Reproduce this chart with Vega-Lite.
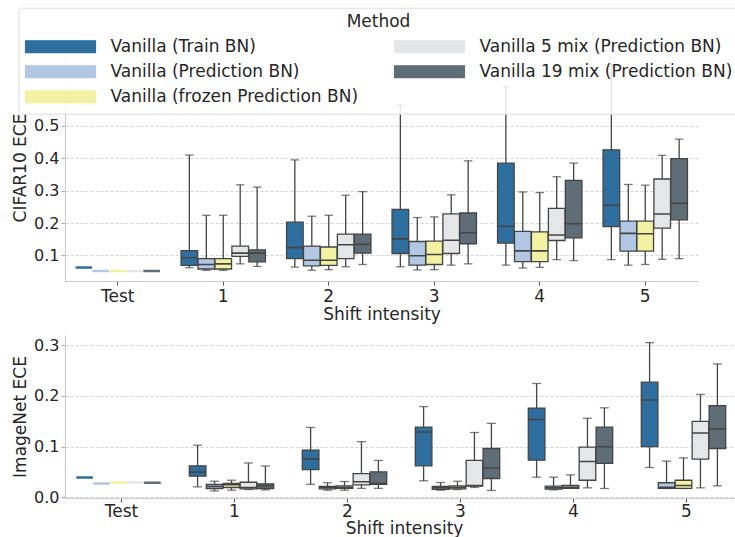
{
  "$schema": "https://vega.github.io/schema/vega-lite/v6.json",
  "padding": {"left": 11, "top": 7, "right": 0, "bottom": 1},
  "background": "white",
  "config": {
    "font": "DejaVu Sans",
    "view": {"stroke": null},
    "axis": {
      "labelFontSize": 16, "titleFontSize": 17, "titleFontWeight": "normal",
      "labelColor": "#262626", "titleColor": "#262626",
      "domainColor": "#cccccc", "domainWidth": 1.2,
      "tickColor": "#aaaaaa", "tickSize": 4,
      "gridColor": "#c8c8c8", "gridDash": [3, 2], "gridWidth": 0.8
    }
  },
  "datasets": {
    "cifar": [
      {"shift": "Test", "method": "Vanilla (Train BN)", "min": 0.063, "q1": 0.063, "median": 0.063, "q3": 0.063, "max": 0.063},
      {"shift": "Test", "method": "Vanilla (Prediction BN)", "min": 0.052, "q1": 0.052, "median": 0.052, "q3": 0.052, "max": 0.052},
      {"shift": "Test", "method": "Vanilla (frozen Prediction BN)", "min": 0.052, "q1": 0.052, "median": 0.052, "q3": 0.052, "max": 0.052},
      {"shift": "Test", "method": "Vanilla 5 mix (Prediction BN)", "min": 0.052, "q1": 0.052, "median": 0.052, "q3": 0.052, "max": 0.052},
      {"shift": "Test", "method": "Vanilla 19 mix (Prediction BN)", "min": 0.052, "q1": 0.052, "median": 0.052, "q3": 0.052, "max": 0.052},
      {"shift": "1", "method": "Vanilla (Train BN)", "min": 0.062, "q1": 0.069, "median": 0.093, "q3": 0.115, "max": 0.410},
      {"shift": "1", "method": "Vanilla (Prediction BN)", "min": 0.054, "q1": 0.058, "median": 0.072, "q3": 0.090, "max": 0.224},
      {"shift": "1", "method": "Vanilla (frozen Prediction BN)", "min": 0.054, "q1": 0.058, "median": 0.074, "q3": 0.090, "max": 0.224},
      {"shift": "1", "method": "Vanilla 5 mix (Prediction BN)", "min": 0.074, "q1": 0.097, "median": 0.107, "q3": 0.129, "max": 0.318},
      {"shift": "1", "method": "Vanilla 19 mix (Prediction BN)", "min": 0.066, "q1": 0.080, "median": 0.107, "q3": 0.117, "max": 0.311},
      {"shift": "2", "method": "Vanilla (Train BN)", "min": 0.064, "q1": 0.090, "median": 0.124, "q3": 0.203, "max": 0.395},
      {"shift": "2", "method": "Vanilla (Prediction BN)", "min": 0.054, "q1": 0.068, "median": 0.085, "q3": 0.129, "max": 0.221},
      {"shift": "2", "method": "Vanilla (frozen Prediction BN)", "min": 0.056, "q1": 0.069, "median": 0.085, "q3": 0.126, "max": 0.224},
      {"shift": "2", "method": "Vanilla 5 mix (Prediction BN)", "min": 0.065, "q1": 0.090, "median": 0.133, "q3": 0.166, "max": 0.286},
      {"shift": "2", "method": "Vanilla 19 mix (Prediction BN)", "min": 0.072, "q1": 0.107, "median": 0.134, "q3": 0.166, "max": 0.297},
      {"shift": "3", "method": "Vanilla (Train BN)", "min": 0.065, "q1": 0.106, "median": 0.151, "q3": 0.242, "max": 0.565},
      {"shift": "3", "method": "Vanilla (Prediction BN)", "min": 0.055, "q1": 0.070, "median": 0.099, "q3": 0.143, "max": 0.217},
      {"shift": "3", "method": "Vanilla (frozen Prediction BN)", "min": 0.056, "q1": 0.072, "median": 0.103, "q3": 0.144, "max": 0.219},
      {"shift": "3", "method": "Vanilla 5 mix (Prediction BN)", "min": 0.070, "q1": 0.106, "median": 0.147, "q3": 0.228, "max": 0.287},
      {"shift": "3", "method": "Vanilla 19 mix (Prediction BN)", "min": 0.074, "q1": 0.136, "median": 0.170, "q3": 0.231, "max": 0.392},
      {"shift": "4", "method": "Vanilla (Train BN)", "min": 0.070, "q1": 0.138, "median": 0.190, "q3": 0.385, "max": 0.622},
      {"shift": "4", "method": "Vanilla (Prediction BN)", "min": 0.061, "q1": 0.081, "median": 0.114, "q3": 0.174, "max": 0.296},
      {"shift": "4", "method": "Vanilla (frozen Prediction BN)", "min": 0.063, "q1": 0.081, "median": 0.114, "q3": 0.173, "max": 0.294},
      {"shift": "4", "method": "Vanilla 5 mix (Prediction BN)", "min": 0.087, "q1": 0.146, "median": 0.163, "q3": 0.245, "max": 0.343},
      {"shift": "4", "method": "Vanilla 19 mix (Prediction BN)", "min": 0.084, "q1": 0.154, "median": 0.198, "q3": 0.332, "max": 0.385},
      {"shift": "5", "method": "Vanilla (Train BN)", "min": 0.087, "q1": 0.189, "median": 0.255, "q3": 0.426, "max": 0.690},
      {"shift": "5", "method": "Vanilla (Prediction BN)", "min": 0.070, "q1": 0.113, "median": 0.168, "q3": 0.206, "max": 0.319},
      {"shift": "5", "method": "Vanilla (frozen Prediction BN)", "min": 0.072, "q1": 0.113, "median": 0.167, "q3": 0.206, "max": 0.317},
      {"shift": "5", "method": "Vanilla 5 mix (Prediction BN)", "min": 0.088, "q1": 0.184, "median": 0.228, "q3": 0.336, "max": 0.409},
      {"shift": "5", "method": "Vanilla 19 mix (Prediction BN)", "min": 0.090, "q1": 0.210, "median": 0.261, "q3": 0.399, "max": 0.459}
    ],
    "imagenet": [
      {"shift": "Test", "method": "Vanilla (Train BN)", "min": 0.0394, "q1": 0.0394, "median": 0.0394, "q3": 0.0394, "max": 0.0394},
      {"shift": "Test", "method": "Vanilla (Prediction BN)", "min": 0.0276, "q1": 0.0276, "median": 0.0276, "q3": 0.0276, "max": 0.0276},
      {"shift": "Test", "method": "Vanilla (frozen Prediction BN)", "min": 0.0295, "q1": 0.0295, "median": 0.0295, "q3": 0.0295, "max": 0.0295},
      {"shift": "Test", "method": "Vanilla 5 mix (Prediction BN)", "min": 0.0295, "q1": 0.0295, "median": 0.0295, "q3": 0.0295, "max": 0.0295},
      {"shift": "Test", "method": "Vanilla 19 mix (Prediction BN)", "min": 0.029, "q1": 0.029, "median": 0.029, "q3": 0.029, "max": 0.029},
      {"shift": "1", "method": "Vanilla (Train BN)", "min": 0.021, "q1": 0.042, "median": 0.050, "q3": 0.0624, "max": 0.103},
      {"shift": "1", "method": "Vanilla (Prediction BN)", "min": 0.013, "q1": 0.0177, "median": 0.0217, "q3": 0.0256, "max": 0.032},
      {"shift": "1", "method": "Vanilla (frozen Prediction BN)", "min": 0.0144, "q1": 0.0197, "median": 0.025, "q3": 0.0276, "max": 0.034},
      {"shift": "1", "method": "Vanilla 5 mix (Prediction BN)", "min": 0.0158, "q1": 0.017, "median": 0.0197, "q3": 0.030, "max": 0.068},
      {"shift": "1", "method": "Vanilla 19 mix (Prediction BN)", "min": 0.015, "q1": 0.0177, "median": 0.023, "q3": 0.027, "max": 0.062},
      {"shift": "2", "method": "Vanilla (Train BN)", "min": 0.026, "q1": 0.055, "median": 0.0755, "q3": 0.093, "max": 0.138},
      {"shift": "2", "method": "Vanilla (Prediction BN)", "min": 0.0144, "q1": 0.017, "median": 0.020, "q3": 0.022, "max": 0.029},
      {"shift": "2", "method": "Vanilla (frozen Prediction BN)", "min": 0.0144, "q1": 0.018, "median": 0.020, "q3": 0.023, "max": 0.0315},
      {"shift": "2", "method": "Vanilla 5 mix (Prediction BN)", "min": 0.018, "q1": 0.025, "median": 0.031, "q3": 0.047, "max": 0.110},
      {"shift": "2", "method": "Vanilla 19 mix (Prediction BN)", "min": 0.018, "q1": 0.026, "median": 0.0276, "q3": 0.0506, "max": 0.073},
      {"shift": "3", "method": "Vanilla (Train BN)", "min": 0.033, "q1": 0.0624, "median": 0.129, "q3": 0.1385, "max": 0.179},
      {"shift": "3", "method": "Vanilla (Prediction BN)", "min": 0.0144, "q1": 0.0158, "median": 0.019, "q3": 0.0217, "max": 0.0295},
      {"shift": "3", "method": "Vanilla (frozen Prediction BN)", "min": 0.0158, "q1": 0.017, "median": 0.020, "q3": 0.023, "max": 0.032},
      {"shift": "3", "method": "Vanilla 5 mix (Prediction BN)", "min": 0.0197, "q1": 0.0223, "median": 0.0236, "q3": 0.073, "max": 0.128},
      {"shift": "3", "method": "Vanilla 19 mix (Prediction BN)", "min": 0.0138, "q1": 0.0374, "median": 0.058, "q3": 0.0965, "max": 0.146},
      {"shift": "4", "method": "Vanilla (Train BN)", "min": 0.040, "q1": 0.0735, "median": 0.1536, "q3": 0.176, "max": 0.2245},
      {"shift": "4", "method": "Vanilla (Prediction BN)", "min": 0.015, "q1": 0.0164, "median": 0.019, "q3": 0.0223, "max": 0.040},
      {"shift": "4", "method": "Vanilla (frozen Prediction BN)", "min": 0.018, "q1": 0.018, "median": 0.020, "q3": 0.0236, "max": 0.0446},
      {"shift": "4", "method": "Vanilla 5 mix (Prediction BN)", "min": 0.019, "q1": 0.034, "median": 0.071, "q3": 0.099, "max": 0.156},
      {"shift": "4", "method": "Vanilla 19 mix (Prediction BN)", "min": 0.0177, "q1": 0.067, "median": 0.100, "q3": 0.1385, "max": 0.1766},
      {"shift": "5", "method": "Vanilla (Train BN)", "min": 0.059, "q1": 0.100, "median": 0.192, "q3": 0.227, "max": 0.305},
      {"shift": "5", "method": "Vanilla (Prediction BN)", "min": 0.0177, "q1": 0.018, "median": 0.020, "q3": 0.029, "max": 0.0716},
      {"shift": "5", "method": "Vanilla (frozen Prediction BN)", "min": 0.0177, "q1": 0.018, "median": 0.0236, "q3": 0.034, "max": 0.078},
      {"shift": "5", "method": "Vanilla 5 mix (Prediction BN)", "min": 0.019, "q1": 0.0755, "median": 0.127, "q3": 0.150, "max": 0.203},
      {"shift": "5", "method": "Vanilla 19 mix (Prediction BN)", "min": 0.023, "q1": 0.0965, "median": 0.135, "q3": 0.181, "max": 0.263}
    ]
  },
  "bounds": "flush",
  "spacing": 54,
  "resolve": {"scale": {"color": "shared"}},
  "vconcat": [
    {
      "width": 633,
      "height": 227,
      "data": {"name": "cifar"},
      "encoding": {
        "x": {"field": "shift", "type": "nominal", "sort": ["Test", "1", "2", "3", "4", "5"],
              "scale": {"paddingInner": 0.2, "paddingOuter": 0.1},
              "axis": {"title": "Shift intensity", "labelAngle": 0, "labelFontSize": 17, "labelPadding": 3, "titlePadding": 2, "tickColor": "#555555", "grid": false}},
        "xOffset": {"field": "method", "type": "nominal",
                    "scale": {"domain": ["Vanilla (Train BN)", "Vanilla (Prediction BN)", "Vanilla (frozen Prediction BN)", "Vanilla 5 mix (Prediction BN)", "Vanilla 19 mix (Prediction BN)"], "paddingInner": 0.02, "paddingOuter": 0}}
      },
      "layer": [
        {
          "transform": [{"filter": "datum.shift !== 'Test'"}],
          "mark": {"type": "rule", "color": "#444444", "strokeWidth": 1.3},
          "encoding": {
            "y": {"field": "min", "type": "quantitative", "scale": {"domain": [0.021, 0.722], "nice": false, "zero": false},
                  "axis": {"title": "CIFAR10 ECE", "values": [0.1, 0.2, 0.3, 0.4, 0.5], "format": ".1f", "labelPadding": 2, "titlePadding": 4, "grid": true}},
            "y2": {"field": "max"}
          }
        },
        {
          "transform": [{"filter": "datum.shift !== 'Test'"}],
          "mark": {"type": "tick", "color": "#444444", "thickness": 1.3, "size": 8.5},
          "encoding": {"y": {"field": "min", "type": "quantitative"}}
        },
        {
          "transform": [{"filter": "datum.shift !== 'Test'"}],
          "mark": {"type": "tick", "color": "#444444", "thickness": 1.3, "size": 8.5},
          "encoding": {"y": {"field": "max", "type": "quantitative"}}
        },
        {
          "transform": [{"filter": "datum.shift !== 'Test'"}],
          "mark": {"type": "bar", "filled": true, "stroke": "#444444", "strokeWidth": 1.3, "opacity": 1},
          "encoding": {
            "y": {"field": "q1", "type": "quantitative"},
            "y2": {"field": "q3"},
            "color": {"field": "method", "type": "nominal",
                     "scale": {"domain": ["Vanilla (Train BN)", "Vanilla (Prediction BN)", "Vanilla (frozen Prediction BN)", "Vanilla 5 mix (Prediction BN)", "Vanilla 19 mix (Prediction BN)"],
                               "range": ["#2e6f9f", "#b1c7e3", "#f2f2a2", "#e5e6e8", "#5f6e76"]},
                     "legend": {"title": "Method", "orient": "none", "legendX": -46.5, "legendY": -46.3, "columns": 2, "columnPadding": 35,
                                "rowPadding": 3, "clipHeight": 22, "symbolType": "M-1,-0.17H1V0.17H-1Z", "symbolSize": 4900,
                                "symbolStrokeWidth": 1.2,
                                "labelFontSize": 17, "titleFontSize": 17,
                                "titleFontWeight": "normal", "titleAnchor": "middle", "labelOffset": 14, "labelLimit": 400,
                                "labelColor": "#262626", "titleColor": "#262626", "titlePadding": 5,
                                "fillColor": "rgba(255,255,255,0.85)", "strokeColor": "#dddddd", "cornerRadius": 4, "padding": 6}}
          }
        },
        {
          "transform": [{"filter": "datum.shift !== 'Test'"}],
          "mark": {"type": "bar", "stroke": "#444444", "strokeWidth": 1.6, "fill": null},
          "encoding": {
            "y": {"field": "median", "type": "quantitative"},
            "y2": {"field": "median"}
          }
        },
        {
          "transform": [{"filter": "datum.shift === 'Test'"}],
          "mark": {"type": "bar", "strokeWidth": 2.5, "fill": null},
          "encoding": {
            "y": {"field": "median", "type": "quantitative"},
            "y2": {"field": "median"},
            "stroke": {"field": "method", "type": "nominal", "legend": null,
                       "scale": {"domain": ["Vanilla (Train BN)", "Vanilla (Prediction BN)", "Vanilla (frozen Prediction BN)", "Vanilla 5 mix (Prediction BN)", "Vanilla 19 mix (Prediction BN)"],
                                 "range": ["#2e6f9f", "#b1c7e3", "#f2f2a2", "#e5e6e8", "#5f6e76"]}}
          }
        }
      ]
    },
    {
      "width": 678,
      "height": 163,
      "data": {"name": "imagenet"},
      "encoding": {
        "x": {"field": "shift", "type": "nominal", "sort": ["Test", "1", "2", "3", "4", "5"],
              "scale": {"paddingInner": 0.2, "paddingOuter": 0.1},
              "axis": {"title": "Shift intensity", "labelAngle": 0, "labelFontSize": 17, "labelPadding": 1, "titlePadding": 1, "tickColor": "#555555", "grid": false}},
        "xOffset": {"field": "method", "type": "nominal",
                    "scale": {"domain": ["Vanilla (Train BN)", "Vanilla (Prediction BN)", "Vanilla (frozen Prediction BN)", "Vanilla 5 mix (Prediction BN)", "Vanilla 19 mix (Prediction BN)"], "paddingInner": 0.02, "paddingOuter": 0}}
      },
      "layer": [
        {
          "transform": [{"filter": "datum.shift !== 'Test'"}],
          "mark": {"type": "rule", "color": "#444444", "strokeWidth": 1.3},
          "encoding": {
            "y": {"field": "min", "type": "quantitative", "scale": {"domain": [-0.001, 0.32], "nice": false, "zero": false},
                  "axis": {"title": "ImageNet ECE", "values": [0, 0.1, 0.2, 0.3], "format": ".1f", "labelPadding": 2, "titlePadding": 4, "grid": true}},
            "y2": {"field": "max"}
          }
        },
        {
          "transform": [{"filter": "datum.shift !== 'Test'"}],
          "mark": {"type": "tick", "color": "#444444", "thickness": 1.3, "size": 9},
          "encoding": {"y": {"field": "min", "type": "quantitative"}}
        },
        {
          "transform": [{"filter": "datum.shift !== 'Test'"}],
          "mark": {"type": "tick", "color": "#444444", "thickness": 1.3, "size": 9},
          "encoding": {"y": {"field": "max", "type": "quantitative"}}
        },
        {
          "transform": [{"filter": "datum.shift !== 'Test'"}],
          "mark": {"type": "bar", "filled": true, "stroke": "#444444", "strokeWidth": 1.3, "opacity": 1},
          "encoding": {
            "y": {"field": "q1", "type": "quantitative"},
            "y2": {"field": "q3"},
            "color": {"field": "method", "type": "nominal",
                     "scale": {"domain": ["Vanilla (Train BN)", "Vanilla (Prediction BN)", "Vanilla (frozen Prediction BN)", "Vanilla 5 mix (Prediction BN)", "Vanilla 19 mix (Prediction BN)"],
                               "range": ["#2e6f9f", "#b1c7e3", "#f2f2a2", "#e5e6e8", "#5f6e76"]},
                     "legend": null}
          }
        },
        {
          "transform": [{"filter": "datum.shift !== 'Test'"}],
          "mark": {"type": "bar", "stroke": "#444444", "strokeWidth": 1.6, "fill": null},
          "encoding": {
            "y": {"field": "median", "type": "quantitative"},
            "y2": {"field": "median"}
          }
        },
        {
          "transform": [{"filter": "datum.shift === 'Test'"}],
          "mark": {"type": "bar", "strokeWidth": 2.5, "fill": null},
          "encoding": {
            "y": {"field": "median", "type": "quantitative"},
            "y2": {"field": "median"},
            "stroke": {"field": "method", "type": "nominal", "legend": null,
                       "scale": {"domain": ["Vanilla (Train BN)", "Vanilla (Prediction BN)", "Vanilla (frozen Prediction BN)", "Vanilla 5 mix (Prediction BN)", "Vanilla 19 mix (Prediction BN)"],
                                 "range": ["#2e6f9f", "#b1c7e3", "#f2f2a2", "#e5e6e8", "#5f6e76"]}}
          }
        }
      ]
    }
  ]
}
